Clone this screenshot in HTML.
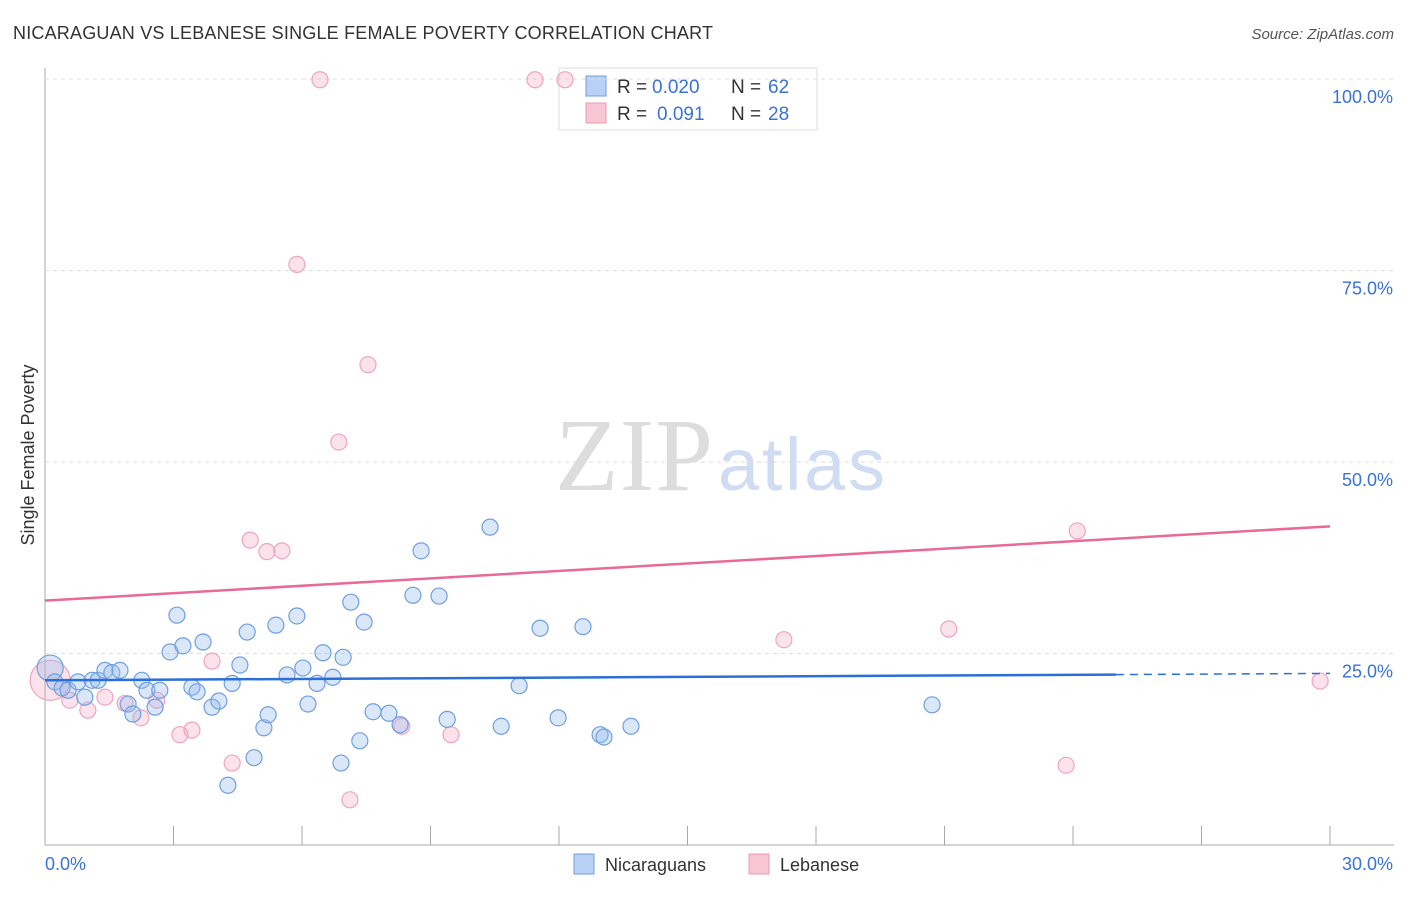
<!DOCTYPE html>
<html><head><meta charset="utf-8"><style>
body{margin:0;background:#fff;font-family:"Liberation Sans",sans-serif}
</style></head><body>
<svg id="chart" width="1406" height="892" xmlns="http://www.w3.org/2000/svg">
<text x="13" y="39" font-size="18" fill="#333" textLength="700">NICARAGUAN VS LEBANESE SINGLE FEMALE POVERTY CORRELATION CHART</text>
<text x="1394" y="39" font-size="15" fill="#555" text-anchor="end" font-style="italic">Source: ZipAtlas.com</text>
<text x="555" y="490" font-size="104" fill="#ddd" font-family="Liberation Serif" textLength="158">ZIP</text>
<text x="718" y="490" font-size="74" fill="#cfdcf2" textLength="167">atlas</text>
<text transform="translate(34,455) rotate(-90)" font-size="18" fill="#333" text-anchor="middle">Single Female Poverty</text>
<g>
<rect x="559" y="68" width="258" height="62" fill="#fff" stroke="#ddd"/>
<rect x="586" y="76" width="20" height="20" fill="#b9d1f4" stroke="#6f9fe0"/>
<rect x="586" y="103" width="20" height="20" fill="#f9c6d6" stroke="#ec9ab4"/>
<text x="617" y="93" font-size="19" fill="#333">R =</text>
<text x="652" y="93" font-size="19" fill="#3a72d8">0.020</text>
<text x="731" y="93" font-size="19" fill="#333">N =</text>
<text x="768" y="93" font-size="19" fill="#3a72d8">62</text>
<text x="617" y="120" font-size="19" fill="#333">R =</text>
<text x="657" y="120" font-size="19" fill="#3a72d8">0.091</text>
<text x="731" y="120" font-size="19" fill="#333">N =</text>
<text x="768" y="120" font-size="19" fill="#3a72d8">28</text>
</g>
<g id="grid"></g><g id="pts"></g><g id="trend"></g>
<g>
<rect x="574" y="854" width="20" height="20" fill="#b9d1f4" stroke="#6f9fe0"/>
<text x="605" y="871" font-size="18" fill="#333">Nicaraguans</text>
<rect x="749" y="854" width="20" height="20" fill="#f9c6d6" stroke="#ec9ab4"/>
<text x="780" y="871" font-size="18" fill="#333">Lebanese</text>
</g>
</svg>
<script>
const blueX=[0.12,0.23,0.40,0.54,0.77,0.93,1.10,1.24,1.40,1.56,1.75,1.94,2.05,2.26,2.38,2.57,2.68,2.92,3.08,3.22,3.43,3.55,3.69,3.90,4.06,4.37,4.55,4.72,4.88,4.27,5.11,5.21,5.39,5.65,5.88,6.02,6.14,6.35,6.49,6.72,6.96,6.91,7.14,7.35,7.45,7.66,8.03,8.29,8.59,8.78,9.20,9.39,10.39,10.65,11.07,11.56,11.98,12.56,12.96,13.05,13.68,20.71];
const blueY=[23.1,21.3,20.5,20.2,21.3,19.3,21.5,21.5,22.8,22.5,22.8,18.4,17.1,21.5,20.2,18.0,20.2,25.2,30.0,26.0,20.6,20.0,26.5,18.0,18.8,21.1,23.5,27.8,11.4,7.8,15.3,17.0,28.7,22.2,29.9,23.1,18.4,21.1,25.1,21.9,24.5,10.7,31.7,13.6,29.1,17.4,17.2,15.7,32.6,38.4,32.5,16.4,41.5,15.5,20.8,28.3,16.6,28.5,14.4,14.1,15.5,18.3];
const pinkX=[0.12,0.58,1.00,1.40,1.87,2.24,2.61,3.15,3.43,3.90,4.37,4.79,5.18,5.53,5.88,6.42,6.86,7.12,7.54,8.33,9.48,11.44,12.14,17.25,21.10,23.84,24.10,29.77];
const pinkY=[21.5,18.9,17.6,19.3,18.5,16.6,18.9,14.4,15.0,24.0,10.7,39.8,38.3,38.4,75.8,99.9,52.6,5.9,62.7,15.5,14.4,99.9,99.9,26.8,28.2,10.4,41.0,21.4];
const yTicks=[25,50,75,100];
const yLabels=["25.0%","50.0%","75.0%","100.0%"];
const xTicks=[0,3,6,9,12,15,18,21,24,27,30];
const blueTrend=[21.5,22.4];
const pinkTrend=[31.9,41.6];
const X=v=>45+v/30*1285, Y=v=>845-v/100*766;
const NS="http://www.w3.org/2000/svg";
function mk(p,t,a){const e=document.createElementNS(NS,t);for(const k in a)e.setAttribute(k,a[k]);p.appendChild(e);return e;}
const g=document.getElementById('grid');
const ax=mk(g,'line',{x1:45,y1:68,x2:45,y2:845,stroke:'#aaa'});

const bx=mk(g,'line',{x1:45,y1:845,x2:1394,y2:845,stroke:'#aaa'});

yTicks.forEach((t,i)=>{
 const l=mk(g,'line',{x1:45,x2:1394,y1:Y(t),y2:Y(t),stroke:'#ddd','stroke-dasharray':'4,4'});
 
 const tx=mk(g,'text',{x:1393,y:Y(t)+24,'font-size':18,fill:'#3a72d8','text-anchor':'end'});tx.textContent=yLabels[i];
 
});
xTicks.forEach((t,i)=>{if(i==0)return;
 const l=mk(g,'line',{x1:X(t),x2:X(t),y1:826,y2:845,stroke:'#aaa'});
 
});
const x0=mk(g,'text',{x:45,y:870,'font-size':18,fill:'#3a72d8'});x0.textContent='0.0%';

const x1=mk(g,'text',{x:1393,y:870,'font-size':18,fill:'#3a72d8','text-anchor':'end'});x1.textContent='30.0%';

const p=document.getElementById('pts');
pinkX.forEach((v,i)=>{const c=mk(p,'circle',{cx:X(v),cy:Y(pinkY[i]),r:i==0?20:8,fill:'rgba(244,160,188,0.3)',stroke:'#f0a4bd','stroke-width':1.2});
 });
blueX.forEach((v,i)=>{const c=mk(p,'circle',{cx:X(v),cy:Y(blueY[i]),r:i==0?13:8,fill:'rgba(150,185,238,0.35)',stroke:'#6f9fe0','stroke-width':1.2});
 });
const tr=document.getElementById('trend');
const bv=x=>blueTrend[0]+(blueTrend[1]-blueTrend[0])*x/30;
const b1=mk(tr,'line',{x1:X(0),y1:Y(bv(0)),x2:X(25),y2:Y(bv(25)),stroke:'#2c6fd6','stroke-width':2.5});

const b2=mk(tr,'line',{x1:X(25),y1:Y(bv(25)),x2:X(30),y2:Y(bv(30)),stroke:'#2c6fd6','stroke-width':1.5,'stroke-dasharray':'8,6'});

const pl=mk(tr,'line',{x1:X(0),y1:Y(pinkTrend[0]),x2:X(30),y2:Y(pinkTrend[1]),stroke:'#e86a98','stroke-width':2.5});

</script>
</body></html>
